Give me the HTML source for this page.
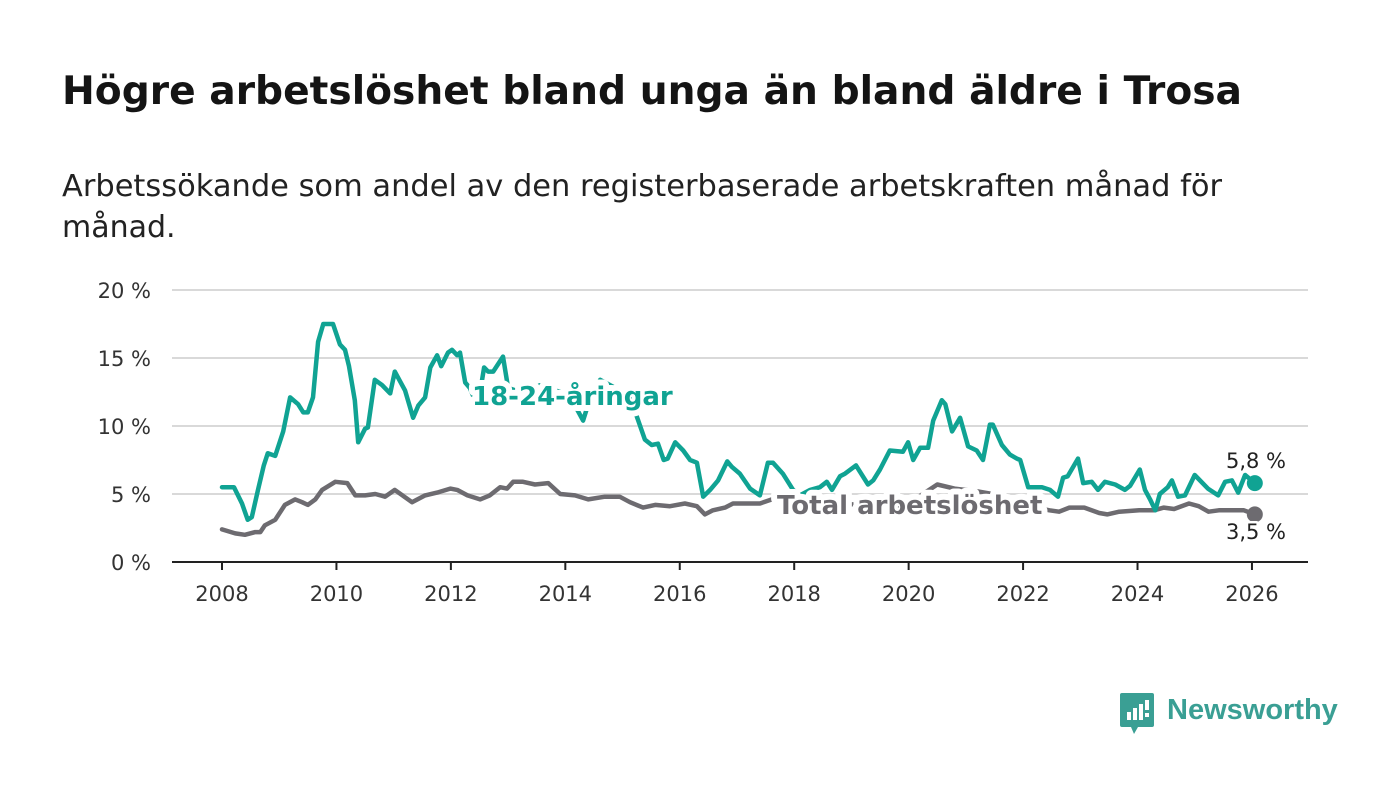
<!DOCTYPE html>
<html><head><meta charset="utf-8">
<style>
body{margin:0;background:#fff;width:1400px;height:794px;overflow:hidden;font-family:"Liberation Sans","DejaVu Sans",sans-serif;}
svg text{font-family:"DejaVu Sans","Liberation Sans",sans-serif;}
</style></head>
<body>
<svg id="chart" width="1400" height="794" viewBox="0 0 1400 794" xmlns="http://www.w3.org/2000/svg">
<text x="62" y="104" font-size="39" font-weight="bold" fill="#141414" textLength="1180" lengthAdjust="spacingAndGlyphs">Högre arbetslöshet bland unga än bland äldre i Trosa</text>
<text x="62" y="196" font-size="30" fill="#222" textLength="1160" lengthAdjust="spacingAndGlyphs">Arbetssökande som andel av den registerbaserade arbetskraften månad för</text>
<text x="62" y="237" font-size="30" fill="#222">månad.</text>
<g id="grid"></g>
<g id="series"></g>
<g id="labels"></g>
<g>
<path d="M1122 693 h30 a2 2 0 0 1 2 2 v30 a2 2 0 0 1 -2 2 h-14 l-4 7 l-3 -7 h-9 a2 2 0 0 1 -2 -2 v-30 a2 2 0 0 1 2 -2z" fill="#3a9f94"/>
<rect x="1127" y="712" width="4" height="8" fill="#fff"/><rect x="1133" y="708" width="4" height="12" fill="#fff"/><rect x="1139" y="704" width="4" height="16" fill="#fff"/><rect x="1145" y="700" width="4" height="10" fill="#fff"/><rect x="1145" y="713" width="4" height="4" fill="#fff"/>
<text x="1167" y="719" font-size="29" font-weight="bold" fill="#3a9f94" style="font-family:'Liberation Sans',sans-serif">Newsworthy</text>
</g>
</svg>
<script>
const yTicks=[0,5,10,15,20];
const yTickLabels=["0 %","5 %","10 %","15 %","20 %"];
const xTicks=[2008,2010,2012,2014,2016,2018,2020,2022,2024,2026];
const youthDates=[2008.00,2008.21,2008.35,2008.45,2008.52,2008.63,2008.73,2008.80,2008.93,2009.07,2009.19,2009.33,2009.42,2009.50,2009.59,2009.68,2009.77,2009.94,2010.06,2010.15,2010.22,2010.32,2010.38,2010.50,2010.55,2010.67,2010.80,2010.94,2011.02,2011.20,2011.34,2011.43,2011.55,2011.64,2011.76,2011.83,2011.95,2012.02,2012.11,2012.16,2012.25,2012.33,2012.42,2012.51,2012.58,2012.65,2012.74,2012.91,2013.00,2013.21,2013.56,2013.91,2014.17,2014.31,2014.43,2014.61,2014.87,2015.13,2015.25,2015.39,2015.51,2015.62,2015.72,2015.79,2015.92,2016.06,2016.18,2016.30,2016.41,2016.53,2016.67,2016.83,2016.91,2017.05,2017.23,2017.40,2017.54,2017.63,2017.80,2017.98,2018.10,2018.28,2018.45,2018.57,2018.66,2018.80,2018.89,2019.08,2019.29,2019.38,2019.50,2019.67,2019.90,2019.99,2020.08,2020.20,2020.34,2020.43,2020.58,2020.64,2020.76,2020.90,2021.04,2021.19,2021.30,2021.42,2021.47,2021.63,2021.77,2021.89,2021.95,2022.09,2022.33,2022.47,2022.61,2022.70,2022.78,2022.96,2023.05,2023.20,2023.31,2023.43,2023.61,2023.78,2023.87,2024.04,2024.13,2024.22,2024.31,2024.39,2024.53,2024.60,2024.71,2024.83,2025.00,2025.23,2025.41,2025.53,2025.65,2025.76,2025.88,2026.05];
const youthValues=[5.5,5.5,4.3,3.1,3.3,5.3,7.1,8.0,7.8,9.6,12.1,11.6,11.0,11.0,12.1,16.2,17.5,17.5,16.0,15.6,14.4,11.9,8.8,9.8,9.9,13.4,13.0,12.4,14.0,12.6,10.6,11.5,12.1,14.3,15.2,14.4,15.4,15.6,15.2,15.4,13.2,12.8,11.9,12.5,14.3,14.0,14.0,15.1,12.8,12.5,13.0,12.5,11.5,10.4,12.0,13.4,12.8,12.0,10.7,9.0,8.6,8.7,7.5,7.6,8.8,8.2,7.5,7.3,4.8,5.3,6.0,7.4,7.0,6.5,5.4,4.9,7.3,7.3,6.5,5.3,4.9,5.3,5.5,5.9,5.3,6.3,6.5,7.1,5.7,6.0,6.8,8.2,8.1,8.8,7.5,8.4,8.4,10.4,11.9,11.6,9.6,10.6,8.5,8.2,7.5,10.1,10.1,8.6,7.9,7.6,7.5,5.5,5.5,5.3,4.8,6.2,6.3,7.6,5.8,5.9,5.3,5.9,5.7,5.3,5.6,6.8,5.3,4.6,3.8,5.0,5.5,6.0,4.8,4.9,6.4,5.4,4.9,5.9,6.0,5.1,6.4,5.8];
const totalDates=[2008.00,2008.23,2008.40,2008.58,2008.67,2008.75,2008.93,2009.10,2009.28,2009.40,2009.50,2009.63,2009.75,2009.98,2010.19,2010.33,2010.50,2010.68,2010.85,2011.02,2011.32,2011.55,2011.76,2011.99,2012.11,2012.29,2012.51,2012.68,2012.86,2012.98,2013.09,2013.26,2013.47,2013.70,2013.91,2014.17,2014.40,2014.69,2014.95,2015.13,2015.36,2015.57,2015.83,2016.09,2016.30,2016.44,2016.58,2016.79,2016.93,2017.14,2017.40,2017.61,2017.90,2018.30,2018.70,2019.20,2019.60,2020.00,2020.50,2020.80,2021.20,2021.60,2022.00,2022.46,2022.63,2022.81,2023.07,2023.33,2023.47,2023.68,2024.03,2024.29,2024.46,2024.64,2024.90,2025.07,2025.24,2025.42,2025.68,2025.86,2026.05];
const totalValues=[2.4,2.1,2.0,2.2,2.2,2.7,3.1,4.2,4.6,4.4,4.2,4.6,5.3,5.9,5.8,4.9,4.9,5.0,4.8,5.3,4.4,4.9,5.1,5.4,5.3,4.9,4.6,4.9,5.5,5.4,5.9,5.9,5.7,5.8,5.0,4.9,4.6,4.8,4.8,4.4,4.0,4.2,4.1,4.3,4.1,3.5,3.8,4.0,4.3,4.3,4.3,4.6,4.4,4.5,4.3,4.2,4.0,4.3,5.7,5.4,5.2,4.9,4.2,3.8,3.7,4.0,4.0,3.6,3.5,3.7,3.8,3.8,4.0,3.9,4.3,4.1,3.7,3.8,3.8,3.8,3.5];

const NS="http://www.w3.org/2000/svg";
const X0=172,X1=1308;
const xs=d=>222+(d-2008)*57.22;
const ys=v=>562-v*13.6;
function mk(tag,attrs,parent,text){const e=document.createElementNS(NS,tag);for(const k in attrs)e.setAttribute(k,attrs[k]);if(text!==undefined)e.textContent=text;parent.appendChild(e);return e;}
const grid=document.getElementById('grid'),series=document.getElementById('series'),labels=document.getElementById('labels');
yTicks.forEach((t,i)=>{
  if(t>0){const g=mk('line',{x1:X0,x2:X1,y1:ys(t),y2:ys(t),stroke:'#d9d9d9','stroke-width':2},grid);
  
  }
  const l=mk('text',{x:151,y:ys(t)+8,'text-anchor':'end','font-size':21,fill:'#333'},grid,yTickLabels[i]);
  
  
});
const ax=mk('line',{x1:X0,x2:X1,y1:562,y2:562,stroke:'#222','stroke-width':2},grid);


xTicks.forEach(t=>{
  const tk=mk('line',{x1:xs(t),x2:xs(t),y1:562,y2:570,stroke:'#222','stroke-width':2},grid);
  
  
  const l=mk('text',{x:xs(t),y:601,'text-anchor':'middle','font-size':21,fill:'#333'},grid,String(t));
  
  
});
function line(d,v,color,name){
  const p=d.map((x,i)=>(i?'L':'M')+xs(x).toFixed(1)+' '+ys(v[i]).toFixed(1)).join(' ');
  const e=mk('path',{d:p,fill:'none',stroke:color,'stroke-width':4.5,'stroke-linejoin':'round','stroke-linecap':'round'},series);
  
  
  const c=mk('circle',{cx:xs(d[d.length-1]),cy:ys(v[v.length-1]),r:8,fill:color},series);
  
  
}
line(totalDates,totalValues,'#6d6b70','total-line');
line(youthDates,youthValues,'#10a393','youth-line');
function lab(x,y,txt,color,name,size,bold,anchor,sw){
  const t=mk('text',{x:x,y:y,'font-size':size,'font-weight':bold?'bold':'normal',fill:color,stroke:'#fff','stroke-width':sw,'paint-order':'stroke','stroke-linejoin':'round','text-anchor':anchor||'start'},labels,txt);
  
  
}
lab(472,405,'18-24-åringar','#10a393','youth-series-label',26,true,'start',12);
lab(777,514,'Total arbetslöshet','#6d6b70','total-series-label',26,true,'start',12);
lab(1256,468,'5,8 %','#222','youth-end-value',21,false,'middle',5);
lab(1256,539,'3,5 %','#222','total-end-value',21,false,'middle',5);
</script>
</body></html>
